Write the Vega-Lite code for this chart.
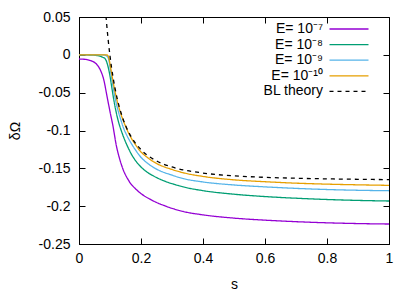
{
  "$schema": "https://vega.github.io/schema/vega-lite/v6.json",
  "width": 310,
  "height": 227,
  "autosize": {"type": "none"},
  "padding": {"left": 79, "top": 17, "right": 26, "bottom": 47},
  "background": "white",
  "datasets": {
    "curves": [
      {"series": "E= 10⁻⁷", "s": 0, "y": -0.0055},
      {"series": "E= 10⁻⁷", "s": 0.02, "y": -0.006},
      {"series": "E= 10⁻⁷", "s": 0.04, "y": -0.008},
      {"series": "E= 10⁻⁷", "s": 0.05, "y": -0.010},
      {"series": "E= 10⁻⁷", "s": 0.06, "y": -0.014},
      {"series": "E= 10⁻⁷", "s": 0.07, "y": -0.021},
      {"series": "E= 10⁻⁷", "s": 0.08, "y": -0.033},
      {"series": "E= 10⁻⁷", "s": 0.09, "y": -0.054},
      {"series": "E= 10⁻⁷", "s": 0.1, "y": -0.075},
      {"series": "E= 10⁻⁷", "s": 0.11, "y": -0.095},
      {"series": "E= 10⁻⁷", "s": 0.12, "y": -0.119},
      {"series": "E= 10⁻⁷", "s": 0.13, "y": -0.136},
      {"series": "E= 10⁻⁷", "s": 0.14, "y": -0.149},
      {"series": "E= 10⁻⁷", "s": 0.16, "y": -0.166},
      {"series": "E= 10⁻⁷", "s": 0.19, "y": -0.180},
      {"series": "E= 10⁻⁷", "s": 0.23, "y": -0.191},
      {"series": "E= 10⁻⁷", "s": 0.28, "y": -0.200},
      {"series": "E= 10⁻⁷", "s": 0.336, "y": -0.207},
      {"series": "E= 10⁻⁷", "s": 0.4, "y": -0.2115},
      {"series": "E= 10⁻⁷", "s": 0.5, "y": -0.2158},
      {"series": "E= 10⁻⁷", "s": 0.6, "y": -0.2185},
      {"series": "E= 10⁻⁷", "s": 0.7, "y": -0.2205},
      {"series": "E= 10⁻⁷", "s": 0.8, "y": -0.222},
      {"series": "E= 10⁻⁷", "s": 0.9, "y": -0.223},
      {"series": "E= 10⁻⁷", "s": 1.0, "y": -0.2236},

      {"series": "E= 10⁻⁸", "s": 0, "y": 0},
      {"series": "E= 10⁻⁸", "s": 0.04, "y": -0.0003},
      {"series": "E= 10⁻⁸", "s": 0.06, "y": -0.001},
      {"series": "E= 10⁻⁸", "s": 0.07, "y": -0.002},
      {"series": "E= 10⁻⁸", "s": 0.078, "y": -0.0035},
      {"series": "E= 10⁻⁸", "s": 0.084, "y": -0.005},
      {"series": "E= 10⁻⁸", "s": 0.089, "y": -0.009},
      {"series": "E= 10⁻⁸", "s": 0.094, "y": -0.016},
      {"series": "E= 10⁻⁸", "s": 0.1, "y": -0.028},
      {"series": "E= 10⁻⁸", "s": 0.105, "y": -0.041},
      {"series": "E= 10⁻⁸", "s": 0.111, "y": -0.0565},
      {"series": "E= 10⁻⁸", "s": 0.118, "y": -0.072},
      {"series": "E= 10⁻⁸", "s": 0.127, "y": -0.088},
      {"series": "E= 10⁻⁸", "s": 0.137, "y": -0.101},
      {"series": "E= 10⁻⁸", "s": 0.148, "y": -0.113},
      {"series": "E= 10⁻⁸", "s": 0.16, "y": -0.124},
      {"series": "E= 10⁻⁸", "s": 0.17, "y": -0.132},
      {"series": "E= 10⁻⁸", "s": 0.181, "y": -0.139},
      {"series": "E= 10⁻⁸", "s": 0.197, "y": -0.147},
      {"series": "E= 10⁻⁸", "s": 0.213, "y": -0.153},
      {"series": "E= 10⁻⁸", "s": 0.24, "y": -0.160},
      {"series": "E= 10⁻⁸", "s": 0.277, "y": -0.167},
      {"series": "E= 10⁻⁸", "s": 0.31, "y": -0.1715},
      {"series": "E= 10⁻⁸", "s": 0.336, "y": -0.1745},
      {"series": "E= 10⁻⁸", "s": 0.4, "y": -0.1795},
      {"series": "E= 10⁻⁸", "s": 0.5, "y": -0.1842},
      {"series": "E= 10⁻⁸", "s": 0.6, "y": -0.1873},
      {"series": "E= 10⁻⁸", "s": 0.7, "y": -0.1895},
      {"series": "E= 10⁻⁸", "s": 0.8, "y": -0.1912},
      {"series": "E= 10⁻⁸", "s": 0.9, "y": -0.1924},
      {"series": "E= 10⁻⁸", "s": 1.0, "y": -0.1932},

      {"series": "E= 10⁻⁹", "s": 0, "y": 0},
      {"series": "E= 10⁻⁹", "s": 0.05, "y": 0},
      {"series": "E= 10⁻⁹", "s": 0.08, "y": -0.0002},
      {"series": "E= 10⁻⁹", "s": 0.086, "y": -0.0008},
      {"series": "E= 10⁻⁹", "s": 0.091, "y": -0.002},
      {"series": "E= 10⁻⁹", "s": 0.094, "y": -0.004},
      {"series": "E= 10⁻⁹", "s": 0.097, "y": -0.008},
      {"series": "E= 10⁻⁹", "s": 0.1, "y": -0.016},
      {"series": "E= 10⁻⁹", "s": 0.105, "y": -0.030},
      {"series": "E= 10⁻⁹", "s": 0.111, "y": -0.045},
      {"series": "E= 10⁻⁹", "s": 0.118, "y": -0.060},
      {"series": "E= 10⁻⁹", "s": 0.127, "y": -0.075},
      {"series": "E= 10⁻⁹", "s": 0.135, "y": -0.086},
      {"series": "E= 10⁻⁹", "s": 0.143, "y": -0.096},
      {"series": "E= 10⁻⁹", "s": 0.155, "y": -0.107},
      {"series": "E= 10⁻⁹", "s": 0.17, "y": -0.118},
      {"series": "E= 10⁻⁹", "s": 0.181, "y": -0.125},
      {"series": "E= 10⁻⁹", "s": 0.197, "y": -0.134},
      {"series": "E= 10⁻⁹", "s": 0.22, "y": -0.143},
      {"series": "E= 10⁻⁹", "s": 0.25, "y": -0.151},
      {"series": "E= 10⁻⁹", "s": 0.3, "y": -0.159},
      {"series": "E= 10⁻⁹", "s": 0.336, "y": -0.1635},
      {"series": "E= 10⁻⁹", "s": 0.4, "y": -0.168},
      {"series": "E= 10⁻⁹", "s": 0.5, "y": -0.172},
      {"series": "E= 10⁻⁹", "s": 0.6, "y": -0.1745},
      {"series": "E= 10⁻⁹", "s": 0.7, "y": -0.1765},
      {"series": "E= 10⁻⁹", "s": 0.8, "y": -0.178},
      {"series": "E= 10⁻⁹", "s": 0.9, "y": -0.179},
      {"series": "E= 10⁻⁹", "s": 1.0, "y": -0.1796},

      {"series": "E= 10⁻¹⁰", "s": 0, "y": 0},
      {"series": "E= 10⁻¹⁰", "s": 0.05, "y": 0},
      {"series": "E= 10⁻¹⁰", "s": 0.088, "y": 0},
      {"series": "E= 10⁻¹⁰", "s": 0.093, "y": -0.0008},
      {"series": "E= 10⁻¹⁰", "s": 0.096, "y": -0.004},
      {"series": "E= 10⁻¹⁰", "s": 0.1, "y": -0.012},
      {"series": "E= 10⁻¹⁰", "s": 0.105, "y": -0.024},
      {"series": "E= 10⁻¹⁰", "s": 0.111, "y": -0.038},
      {"series": "E= 10⁻¹⁰", "s": 0.118, "y": -0.052},
      {"series": "E= 10⁻¹⁰", "s": 0.127, "y": -0.067},
      {"series": "E= 10⁻¹⁰", "s": 0.135, "y": -0.078},
      {"series": "E= 10⁻¹⁰", "s": 0.143, "y": -0.087},
      {"series": "E= 10⁻¹⁰", "s": 0.155, "y": -0.099},
      {"series": "E= 10⁻¹⁰", "s": 0.17, "y": -0.111},
      {"series": "E= 10⁻¹⁰", "s": 0.181, "y": -0.118},
      {"series": "E= 10⁻¹⁰", "s": 0.197, "y": -0.127},
      {"series": "E= 10⁻¹⁰", "s": 0.22, "y": -0.1355},
      {"series": "E= 10⁻¹⁰", "s": 0.25, "y": -0.1435},
      {"series": "E= 10⁻¹⁰", "s": 0.3, "y": -0.1515},
      {"series": "E= 10⁻¹⁰", "s": 0.336, "y": -0.1558},
      {"series": "E= 10⁻¹⁰", "s": 0.4, "y": -0.1607},
      {"series": "E= 10⁻¹⁰", "s": 0.5, "y": -0.1652},
      {"series": "E= 10⁻¹⁰", "s": 0.6, "y": -0.1677},
      {"series": "E= 10⁻¹⁰", "s": 0.7, "y": -0.1696},
      {"series": "E= 10⁻¹⁰", "s": 0.8, "y": -0.1709},
      {"series": "E= 10⁻¹⁰", "s": 0.9, "y": -0.1718},
      {"series": "E= 10⁻¹⁰", "s": 1.0, "y": -0.1725}
    ],
    "bl": [
      {"series": "BL theory", "s": 0.085, "y": 0.0619},
      {"series": "BL theory", "s": 0.0875, "y": 0.049},
      {"series": "BL theory", "s": 0.09, "y": 0.0372},
      {"series": "BL theory", "s": 0.0925, "y": 0.0263},
      {"series": "BL theory", "s": 0.095, "y": 0.0163},
      {"series": "BL theory", "s": 0.1, "y": -0.0015},
      {"series": "BL theory", "s": 0.105, "y": -0.0168},
      {"series": "BL theory", "s": 0.11, "y": -0.0301},
      {"series": "BL theory", "s": 0.12, "y": -0.0519},
      {"series": "BL theory", "s": 0.13, "y": -0.0689},
      {"series": "BL theory", "s": 0.14, "y": -0.0823},
      {"series": "BL theory", "s": 0.15, "y": -0.0932},
      {"series": "BL theory", "s": 0.17, "y": -0.1094},
      {"series": "BL theory", "s": 0.2, "y": -0.1253},
      {"series": "BL theory", "s": 0.25, "y": -0.1401},
      {"series": "BL theory", "s": 0.3, "y": -0.1482},
      {"series": "BL theory", "s": 0.4, "y": -0.1562},
      {"series": "BL theory", "s": 0.5, "y": -0.1599},
      {"series": "BL theory", "s": 0.6, "y": -0.1619},
      {"series": "BL theory", "s": 0.7, "y": -0.1631},
      {"series": "BL theory", "s": 0.8, "y": -0.1639},
      {"series": "BL theory", "s": 0.9, "y": -0.1645},
      {"series": "BL theory", "s": 1.0, "y": -0.1649}
    ]
  },
  "layer": [
    {
      "data": {"name": "curves"},
      "mark": {"type": "line", "strokeWidth": 1.3, "interpolate": "monotone", "clip": true},
      "encoding": {
        "x": {
          "field": "s", "type": "quantitative",
          "scale": {"domain": [0, 1], "nice": false, "zero": false},
          "axis": {"orient": "bottom", "values": [0, 0.2, 0.4, 0.6, 0.8, 1], "title": "s",
                   "labelExpr": "format(datum.value, '~g')", "labelPadding": 13, "titlePadding": 12}
        },
        "y": {
          "field": "y", "type": "quantitative",
          "scale": {"domain": [-0.25, 0.05], "nice": false, "zero": false},
          "axis": {"orient": "left", "values": [-0.25, -0.2, -0.15, -0.1, -0.05, 0, 0.05], "title": "δΩ",
                   "labelExpr": "datum.value < 0 ? '-' + format(-datum.value, '~g') : format(datum.value, '~g')",
                   "labelPadding": 15, "titlePadding": 16}
        },
        "color": {"field": "series", "type": "nominal",
          "scale": {"domain": ["E= 10⁻⁷", "E= 10⁻⁸", "E= 10⁻⁹", "E= 10⁻¹⁰", "BL theory"],
                    "range": ["#9400d3", "#009e73", "#56b4e9", "#e69f00", "#000000"]},
          "legend": {"title": null}},
        "strokeDash": {"field": "series", "type": "nominal",
          "scale": {"domain": ["E= 10⁻⁷", "E= 10⁻⁸", "E= 10⁻⁹", "E= 10⁻¹⁰", "BL theory"],
                    "range": [[1, 0], [1, 0], [1, 0], [1, 0], [4, 4]]},
          "legend": {"title": null}}
      }
    },
    {
      "data": {"name": "bl"},
      "mark": {"type": "line", "strokeWidth": 1.3, "interpolate": "monotone", "clip": true},
      "encoding": {
        "x": {"field": "s", "type": "quantitative",
          "axis": {"orient": "top", "values": [0, 0.2, 0.4, 0.6, 0.8, 1], "labels": false, "title": null, "domain": false}},
        "y": {"field": "y", "type": "quantitative",
          "axis": {"orient": "right", "values": [-0.25, -0.2, -0.15, -0.1, -0.05, 0, 0.05], "labels": false, "title": null, "domain": false}},
        "color": {"field": "series", "type": "nominal", "legend": {"title": null}},
        "strokeDash": {"field": "series", "type": "nominal", "legend": {"title": null}}
      }
    }
  ],
  "resolve": {"axis": {"x": "independent", "y": "independent"}},
  "config": {
    "font": "Liberation Sans",
    "view": {"stroke": "#000000", "strokeWidth": 1},
    "axis": {
      "grid": false,
      "domainColor": "#000000",
      "domainWidth": 1,
      "tickColor": "#000000",
      "tickSize": -6,
      "tickWidth": 1,
      "labelFont": "Liberation Sans",
      "labelFontSize": 14,
      "labelColor": "#000000",
      "titleFont": "Liberation Sans",
      "titleFontSize": 14,
      "titleFontWeight": "normal",
      "titleColor": "#000000",
      "labelFlush": false,
      "labelOverlap": false
    },
    "legend": {
      "orient": "top-right",
      "offset": 5,
      "padding": 0,
      "labelFont": "Liberation Sans",
      "labelFontSize": 14,
      "labelColor": "#000000",
      "labelAlign": "right",
      "labelOffset": -58,
      "symbolType": "M-8.9,0H-1.1M1.3,0",
      "symbolSize": 100,
      "symbolStrokeWidth": 1.3,
      "rowPadding": 1.6
    }
  }
}
